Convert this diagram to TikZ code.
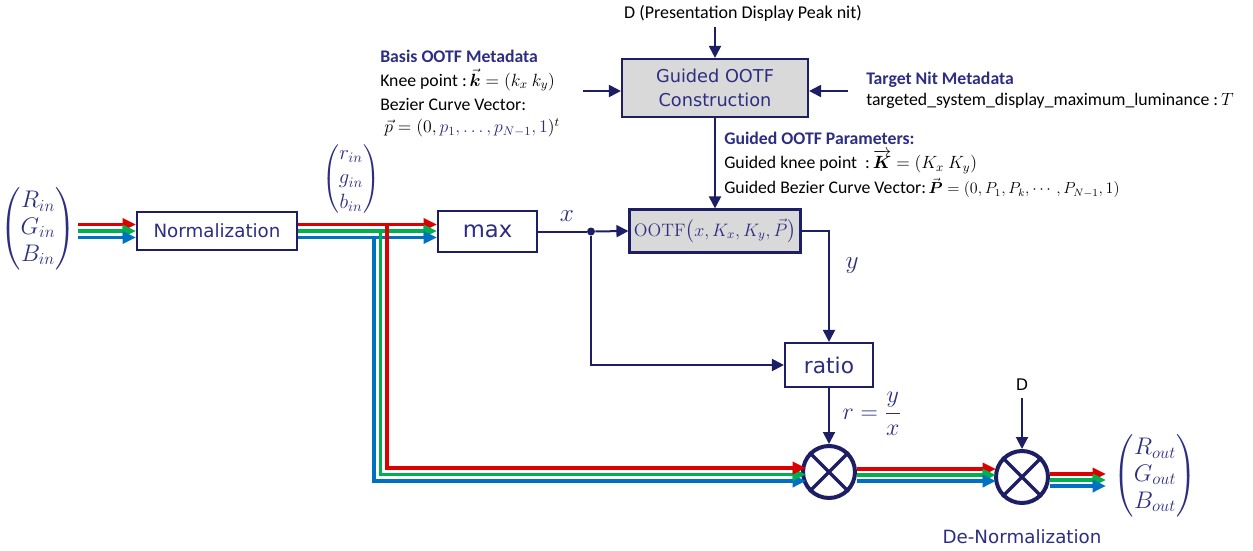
\RequirePackage{fix-cm}
\documentclass[tikz,border=0pt]{standalone}
\usepackage{amsmath}
\usepackage[no-math]{fontspec}
\setmainfont{Carlito}
\newfontfamily\dvs{DejaVu Sans}
\usetikzlibrary{arrows.meta,calc}
\definecolor{navy}{RGB}{30,30,100}
\definecolor{navytxt}{RGB}{45,45,130}
\definecolor{rd}{RGB}{220,0,0}
\definecolor{gn}{RGB}{0,176,80}
\definecolor{bl}{RGB}{0,112,192}
\definecolor{boxgray}{RGB}{217,217,217}
\begin{document}
\begin{tikzpicture}[x=0.75pt,y=-0.75pt,
  blk/.style={draw=navy, line width=1.6pt, fill=white, text=navytxt, inner sep=0pt, font=\dvs\fontsize{13.7}{16}\selectfont},
  gblk/.style={blk, fill=boxgray},
  flow/.style={draw=navy, line width=1.5pt},
  nav/.style={flow, -{Triangle[length=9pt,width=9pt]}},
  rgb/.style={line width=2.6pt, -{Triangle[length=10pt,width=9pt]}},
  rR/.style={rgb, draw=rd},
  rG/.style={rgb, draw=gn},
  rB/.style={rgb, draw=bl},
  mult/.style={circle, draw=navy, line width=3pt, minimum size=39pt, inner sep=0pt, fill=white},
  cross/.style={draw=navy, line width=2.5pt},
  lbl/.style={font=\fontsize{13.3}{16}\selectfont, anchor=west, inner sep=0pt},
  hdr/.style={lbl, font=\bfseries\fontsize{13.3}{16}\selectfont, text=navytxt},
  vecm/.style={text=navytxt, inner sep=0pt},
]
\useasboundingbox (0,0) rectangle (1253,550);

% blocks
\node[blk, minimum width=120pt, minimum height=28.5pt] (norm) at (217,231) {Normalization};
\node[blk, minimum width=74.25pt, minimum height=31pt, font=\dvs\fontsize{17}{20}\selectfont] (max) at (487.5,231.5) {max};
\node[gblk, minimum width=128.25pt, minimum height=32.25pt, font=\fontsize{13.5}{15}\selectfont] (ootf) at (715,231) {$\mathrm{OOTF}\big(x,K_x,K_y,\vec{P}\big)$};
\node[blk, minimum width=66pt, minimum height=33pt, font=\dvs\fontsize{16.3}{19}\selectfont] (ratio) at (829,365) {ratio};
\node[gblk, minimum width=139.5pt, minimum height=43.5pt, align=center, font=\dvs\fontsize{13.3}{17.5}\selectfont] (goc) at (715,88) {Guided OOTF\\Construction};
\node[mult] (m1) at (829,472) {};
\draw[cross] (m1.north east) -- (m1.south west) (m1.north west) -- (m1.south east);
\node[mult] (m2) at (1022,477) {};
\draw[cross] (m2.north east) -- (m2.south west) (m2.north west) -- (m2.south east);
\node[circle, fill=navy, minimum size=6pt, inner sep=0pt] (dot) at (591,231.5) {};

% vectors
\node[vecm, font=\fontsize{18}{20}\selectfont] (vin) at (38,229) {$\left(\begin{matrix}R_{in}\\ G_{in}\\ B_{in}\end{matrix}\right)$};
\node[vecm, font=\fontsize{15.5}{18.5}\selectfont] (vn) at (351,179) {$\left(\begin{matrix}r_{in}\\ g_{in}\\ b_{in}\end{matrix}\right)$};
\node[vecm, font=\fontsize{18}{20}\selectfont] (vout) at (1155,476) {$\left(\begin{matrix}R_{out}\\ G_{out}\\ B_{out}\end{matrix}\right)$};

% colored lines: input
\coordinate (inR) at (78,224.5);
\coordinate (inG) at (78,231);
\coordinate (inB) at (78,237.5);
\draw[rR] (inR) -- (inR -| norm.west);
\draw[rG] (inG) -- (inG -| norm.west);
\draw[rB] (inB) -- (inB -| norm.west);
\draw[rR] (norm.east |- inR) -- (max.west |- inR);
\draw[rG] (norm.east |- inG) -- (max.west |- inG);
\draw[rB] (norm.east |- inB) -- (max.west |- inB);

% branches to multiplier 1
\coordinate (bB) at (374,237.5);
\coordinate (bG) at (380.5,231);
\coordinate (bR) at (387,224.5);
\coordinate (lR) at (0,468);
\coordinate (lG) at (0,474.5);
\coordinate (lB) at (0,481);
\draw[rB] (bB) |- ($(m1.west |- lB)+(5,0)$);
\draw[rG] (bG) |- ($(m1.west |- lG)+(5,0)$);
\draw[rR] (bR) |- ($(m1.west |- lR)+(5,0)$);

% multiplier 1 to multiplier 2
\coordinate (mR) at (0,469);
\coordinate (mG) at (0,475);
\coordinate (mB) at (0,481);
\draw[rR] (m1.east |- mR) -- ($(m2.west |- mR)+(2,0)$);
\draw[rG] (m1.east |- mG) -- ($(m2.west |- mG)+(2,0)$);
\draw[rB] (m1.east |- mB) -- ($(m2.west |- mB)+(2,0)$);

% output
\coordinate (oR) at (1106,474);
\coordinate (oG) at (1106,480);
\coordinate (oB) at (1106,486);
\draw[rR] (m2.east |- oR) -- (oR);
\draw[rG] (m2.east |- oG) -- (oG);
\draw[rB] (m2.east |- oB) -- (oB);

% navy connectors
\draw[flow] (max.east) -- (dot);
\draw[nav] (dot) -- (ootf.west);
\draw[nav] (ootf.east) -| (ratio.north);
\draw[nav] (dot) |- (ratio.west);
\draw[nav] (ratio.south) -- (m1.north);
\draw[nav] (goc.south) -- (ootf.north);
\coordinate (dT) at (715,27);
\draw[nav] (dT) -- (goc.north);
\coordinate (bL) at (583,91);
\draw[nav] (bL) -- (bL -| goc.west);
\coordinate (tR) at (848,91);
\draw[nav] (tR) -- (tR -| goc.east);
\node[font=\dvs\fontsize{12}{14}\selectfont] (dlab2) at (1022,385) {D};
\coordinate (dT2) at (1022,398);
\draw[nav] (dT2) -- (m2.north);

% labels
\node[text=navytxt, font=\fontsize{19}{20}\selectfont] (xl) at (567,216) {$x$};
\node[text=navytxt, font=\fontsize{19}{20}\selectfont] (yl) at (852,266) {$y$};
\node[text=navytxt, font=\fontsize{18}{20}\selectfont, anchor=west] (rl) at (838,414) {$r=\dfrac{y}{x}$};
\node[text=navytxt, font=\dvs\fontsize{13.7}{16}\selectfont] (denorm) at (1022,537) {De-Normalization};
\node[font=\fontsize{13.5}{16}\selectfont] (dlab) at (743,13) {D (Presentation Display Peak nit)};

\node[hdr] (bh) at (380,56) {Basis OOTF Metadata};
\node[lbl] (bk) at (380,80) {Knee point :$\,\vec{\boldsymbol{k}}=(k_x\ k_y)$};
\node[lbl] (bb) at (380,104) {Bezier Curve Vector:};
\node[lbl] (bp) at (384,128) {$\vec{p}=(0,\textcolor{navytxt}{p_1,\ldots,p_{N-1},1})^t$};

\node[hdr] (th) at (866,80) {Target Nit Metadata};
\node[lbl] (tl) at (866,101) {targeted\_system\_display\_maximum\_luminance :$\,T$};

\node[hdr] (gh) at (724,138) {Guided OOTF Parameters:};
\node[lbl] (gk) at (724,162) {Guided knee point \ :$\,\overrightarrow{\boldsymbol{K}}=(K_x\ K_y)$};
\node[lbl] (gb) at (724,188) {Guided Bezier Curve Vector:{\fontsize{12}{14}\selectfont$\,\vec{\boldsymbol{P}}=(0,P_1,P_k,\cdots,P_{N-1},1)$}};
\end{tikzpicture}
\end{document}
